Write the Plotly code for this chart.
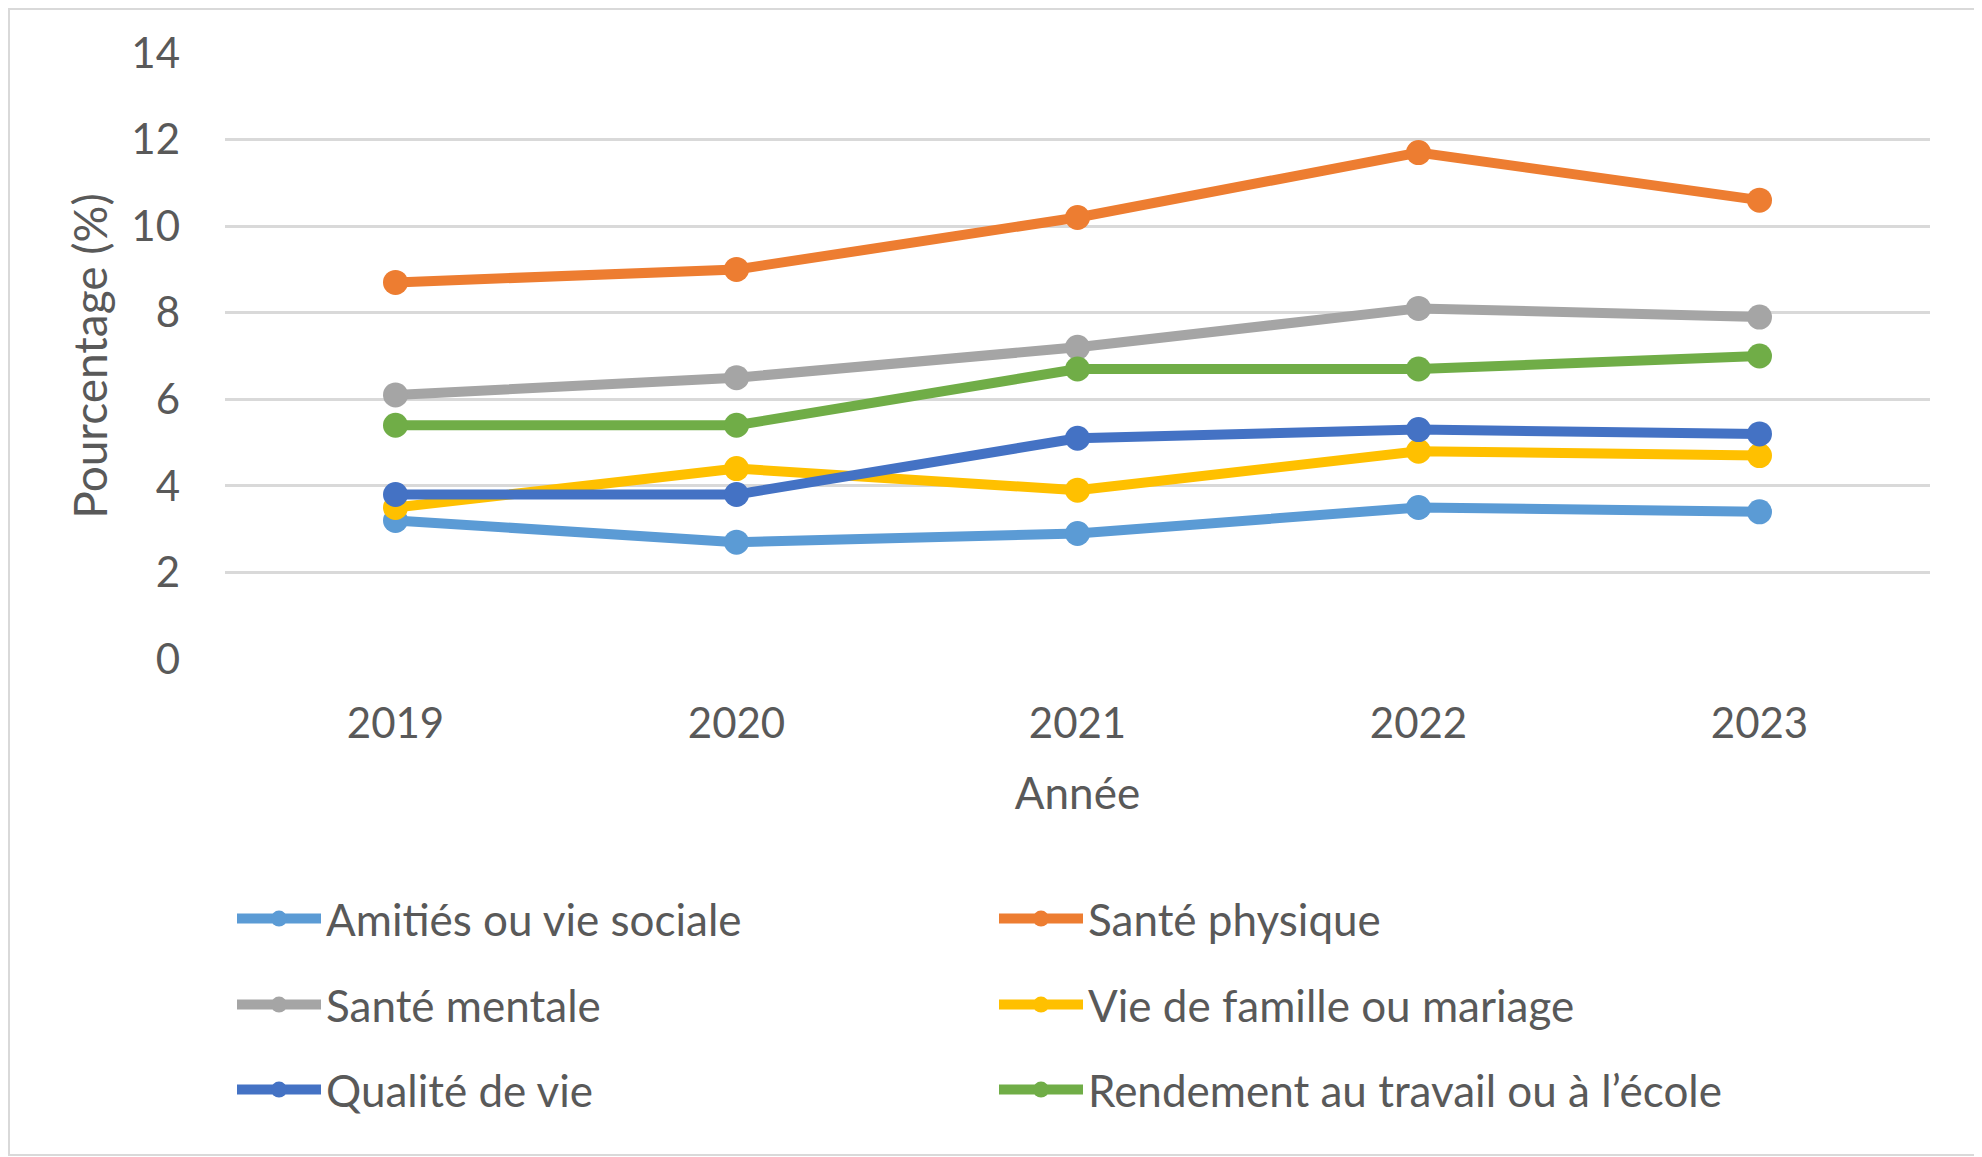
import plotly.graph_objects as go

years = ["2019", "2020", "2021", "2022", "2023"]
series_names = [
    "Amitiés ou vie sociale",
    "Santé physique",
    "Santé mentale",
    "Vie de famille ou mariage",
    "Qualité de vie",
    "Rendement au travail ou à l’école",
]
amities = [3.2, 2.7, 2.9, 3.5, 3.4]
sante_physique = [8.7, 9.0, 10.2, 11.7, 10.6]
sante_mentale = [6.1, 6.5, 7.2, 8.1, 7.9]
vie_famille = [3.5, 4.4, 3.9, 4.8, 4.7]
qualite_vie = [3.8, 3.8, 5.1, 5.3, 5.2]
rendement = [5.4, 5.4, 6.7, 6.7, 7.0]
y_ticks = [0, 2, 4, 6, 8, 10, 12, 14]

values = [amities, sante_physique, sante_mentale, vie_famille, qualite_vie, rendement]
colors = ["#5B9BD5", "#ED7D31", "#A5A5A5", "#FFC000", "#4472C4", "#70AD47"]
legend_ids = ["legend", "legend", "legend2", "legend2", "legend3", "legend3"]

OFF = 8  # page body margin
W, H = 1982 - OFF, 1157 - OFF
ML, MR, MT, MB = 225 - OFF, 52, 53 - OFF, 498
PW, PH = W - ML - MR, H - MT - MB
FONT = "Lato"
TXT = "#595959"

fig = go.Figure()
for name, vals, col, lg in zip(series_names, values, colors, legend_ids):
    fig.add_trace(go.Scatter(
        x=years, y=vals, name=name, mode="lines+markers",
        line=dict(color=col, width=10),
        marker=dict(color=col, size=25, symbol="circle"),
        legend=lg,
    ))

def py(Y):
    return (H - MB - (Y - OFF)) / PH

def px_(X):
    return (X - OFF - ML) / PW

leg_common = dict(
    orientation="h", entrywidth=663, entrywidthmode="pixels",
    x=px_(232), xanchor="left", yanchor="middle",
    font=dict(family=FONT, size=44, color=TXT),
    bgcolor="rgba(0,0,0,0)", itemwidth=84, tracegroupgap=0,
)

fig.update_layout(
    width=W, height=H,
    margin=dict(l=ML, r=MR, t=MT, b=MB, autoexpand=False),
    paper_bgcolor="white", plot_bgcolor="white",
    font=dict(family=FONT, size=42, color=TXT),
    legend=dict(**leg_common, y=py(919)),
    legend2=dict(**leg_common, y=py(1005)),
    legend3=dict(**leg_common, y=py(1090)),
    xaxis=dict(
        type="category", range=[-0.5, 4.5], showgrid=False, zeroline=False,
        showline=False, ticks="", tickfont=dict(family=FONT, size=42, color=TXT),
        ticklabelstandoff=36, automargin=False,
        title=dict(text="Année", font=dict(family=FONT, size=44, color=TXT), standoff=32),
    ),
    yaxis=dict(
        range=[0, 14], tickvals=y_ticks, showgrid=True, gridcolor="#D9D9D9",
        gridwidth=3, zeroline=False, showline=False, ticks="",
        tickfont=dict(family=FONT, size=42, color=TXT),
        ticklabelstandoff=44, automargin=False,
        title=dict(text="Pourcentage (%)", font=dict(family=FONT, size=46, color=TXT), standoff=9),
    ),
    shapes=[dict(
        type="rect", xref="paper", yref="paper",
        x0=(1 - ML) / PW, x1=(1982 - OFF - 2 - ML) / PW,
        y0=py(1157 - 2), y1=(H - MB - 1) / PH,
        line=dict(color="#D9D9D9", width=2), fillcolor="rgba(0,0,0,0)", layer="below",
    )],
)

fig.write_html("out.html")
